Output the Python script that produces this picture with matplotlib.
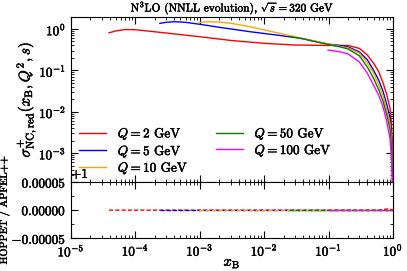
import numpy as np
import matplotlib
matplotlib.use("Agg")
import matplotlib.pyplot as plt
import matplotlib.patheffects as pe
from matplotlib.ticker import ScalarFormatter, LogLocator, MultipleLocator, NullFormatter

plt.rcParams["font.family"] = "serif"
plt.rcParams["font.serif"] = ["cmr10", "DejaVu Serif"]
plt.rcParams["mathtext.fontset"] = "cm"
plt.rcParams["axes.formatter.use_mathtext"] = True
plt.rcParams["axes.unicode_minus"] = True

# ===============================================
# Data
# ===============================================

labels = ["$Q = 2$ GeV", "$Q = 5$ GeV", "$Q = 10$ GeV",
          "$Q = 50$ GeV", "$Q = 100$ GeV"]
colors = ["red", "blue", "orange", "green", "magenta"]

x_q2 = [3.9e-5, 5e-5, 7e-5, 1e-4, 1.7e-4, 3e-4, 1e-3, 3e-3, 1e-2, 3e-2, 0.1, 0.15,
        0.2, 0.3, 0.4, 0.5, 0.6, 0.7, 0.8, 0.9, 0.95, 0.98, 0.99, 0.995]
s_q2 = [0.81, 0.90, 0.97, 0.96, 0.88, 0.80, 0.65, 0.53, 0.45, 0.41, 0.40, 0.40,
        0.40, 0.34, 0.235, 0.148, 0.093, 0.05, 0.026, 0.012, 0.005, 1.2e-3, 4e-4, 1.5e-4]

x_q5 = [2.4e-4, 3e-4, 4e-4, 6e-4, 1e-3, 2e-3, 6e-3, 1.5e-2, 3.6e-2, 0.1, 0.15,
        0.2, 0.3, 0.4, 0.5, 0.6, 0.7, 0.8, 0.9, 0.95, 0.98, 0.99]
s_q5 = [1.37, 1.45, 1.50, 1.45, 1.30, 1.10, 0.86, 0.72, 0.60, 0.43, 0.40,
        0.37, 0.28, 0.18, 0.10, 0.058, 0.031, 0.015, 0.007, 0.0025, 6e-4, 2e-4]

x_q10 = [9.8e-4, 1.4e-3, 2e-3, 3e-3, 6e-3, 1e-2, 2.5e-2, 5e-2, 0.1, 0.15,
         0.2, 0.3, 0.4, 0.5, 0.6, 0.7, 0.8, 0.9, 0.95, 0.98, 0.99]
s_q10 = [1.45, 1.50, 1.47, 1.38, 1.14, 0.95, 0.69, 0.55, 0.43, 0.38,
         0.35, 0.26, 0.15, 0.085, 0.044, 0.024, 0.011, 0.005, 0.0018, 4.5e-4, 1.5e-4]

x_q50 = [0.0244, 0.04, 0.06, 0.1, 0.15, 0.2, 0.3, 0.4, 0.5, 0.6, 0.7, 0.8, 0.9,
         0.95, 0.98, 0.99]
s_q50 = [0.66, 0.58, 0.50, 0.42, 0.37, 0.33, 0.225, 0.12, 0.064, 0.034, 0.018,
         0.0085, 0.0038, 0.0013, 3.2e-4, 1.1e-4]

x_q100 = [0.098, 0.15, 0.2, 0.3, 0.4, 0.5, 0.6, 0.7, 0.8, 0.9, 0.95, 0.98, 0.99]
s_q100 = [0.31, 0.28, 0.25, 0.16, 0.085, 0.044, 0.025, 0.013, 0.0058, 0.0022,
          7e-4, 1.6e-4, 6e-5]

xs = [x_q2, x_q5, x_q10, x_q50, x_q100]
sigmas = [s_q2, s_q5, s_q10, s_q50, s_q100]

# HOPPET / APFEL++ ratio, equal to one within the plotted band
ratio_q2 = [1.0] * (len(x_q2) - 7) + [1.000001, 1.000002, 1.000002, 1.000001,
                                      1.000001, 1.0, 1.0]
ratio_q5 = [1.0] * len(x_q5)
ratio_q10 = [1.0] * len(x_q10)
ratio_q50 = [1.0] * len(x_q50)
ratio_q100 = [1.0] * len(x_q100)
ratios = [ratio_q2, ratio_q5, ratio_q10, ratio_q50, ratio_q100]

# ===============================================
# Figure
# ===============================================

fig = plt.figure(figsize=(4.07, 2.71), dpi=100)
ax1 = fig.add_axes([0.1744, 0.3284, 0.7912, 0.6089])
ax2 = fig.add_axes([0.1744, 0.1207, 0.7912, 0.2077], sharex=ax1)

for x, s, r, c, lab in zip(xs, sigmas, ratios, colors, labels):
    ax1.plot(x, s, color=c, lw=1.0, label=lab)
    ax2.plot(x, r, color=c, lw=1.0, ls=(0, (3, 1.5)))

ax1.set_xscale("log")
ax1.set_yscale("log")
ax1.set_xlim(1e-5, 1)
ax1.yaxis.set_minor_locator(LogLocator(base=10, subs=np.arange(2, 10), numticks=10))
ax1.yaxis.set_minor_formatter(NullFormatter())
ax1.set_yticks([1e-3, 1e-2, 1e-1, 1e0])
ax1.set_ylim(2e-4, 1.95)
plt.setp(ax1.get_xticklabels(), visible=False)
ax1.set_ylabel("$\\sigma^{+}_{\\rm NC,red}(x_{\\rm B},Q^2,s)$", fontsize=11, labelpad=1)
ax1.set_title("N$^3$LO (NNLL evolution), $\\sqrt{s} = 320$ GeV", fontsize=8.2, pad=2)

ax1.legend(loc="lower left", ncol=2, frameon=False, fontsize=9.5,
           handlelength=2.0, handletextpad=0.9, columnspacing=2.1, labelspacing=0.05,
           borderaxespad=0.0, bbox_to_anchor=(0.01, 0.0))

ax2.set_ylim(1 - 5e-5, 1 + 5e-5)
fmt = ScalarFormatter(useOffset=1.0, useMathText=True)
fmt.set_powerlimits((-10, 10))
ax2.yaxis.set_major_formatter(fmt)
ax2.yaxis.set_major_locator(MultipleLocator(5e-5))
ax2.yaxis.set_minor_locator(MultipleLocator(2.5e-5))
ax2.set_xlabel("$x_{\\rm B}$", fontsize=10.5, labelpad=-2)
ax2.set_ylabel("HOPPET / APFEL++", fontsize=7.5)
ax2.yaxis.set_label_coords(-0.19, 0.5)
ax2.yaxis.offsetText.set_fontsize(9.5)

for ax in (ax1, ax2):
    ax.tick_params(which="both", direction="in", top=True, right=True, labelsize=9.5)
    ax.tick_params(which="major", length=5, width=0.8)
    ax.tick_params(which="minor", length=2.5, width=0.6)
    ax.xaxis.set_minor_locator(LogLocator(base=10, subs=np.arange(2, 10), numticks=10))
    ax.xaxis.set_minor_formatter(NullFormatter())

# heavier strokes, like the TeX rendering of the original
fig.canvas.draw()
for t in fig.findobj(matplotlib.text.Text):
    t.set_path_effects([pe.withStroke(linewidth=0.35, foreground="black")])

fig.savefig("out.png", dpi=100)
